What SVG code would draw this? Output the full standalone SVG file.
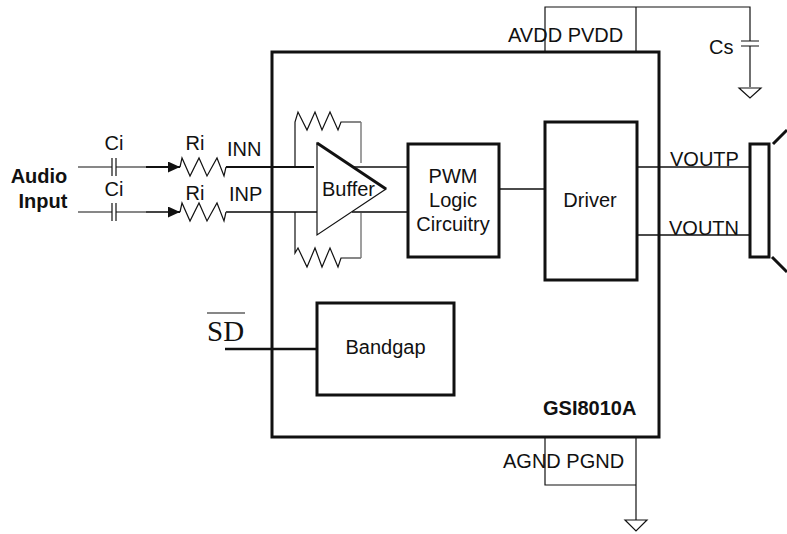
<svg xmlns="http://www.w3.org/2000/svg" width="787" height="534" viewBox="0 0 787 534">
<style>
text{font-family:"Liberation Sans",Arial,sans-serif;font-size:20px;fill:#111}
.b{font-weight:bold}
.c{fill:none;stroke:#111;stroke-width:2}
.g{fill:none;stroke:#444;stroke-width:2}
.t{fill:none;stroke:#111;stroke-width:1.2}
.y{fill:none;stroke:#777;stroke-width:1.4}
.m{fill:none;stroke:#111;stroke-width:1.6}
.h{fill:none;stroke:#111;stroke-width:3}
</style>
<defs><marker id="a" markerWidth="12" markerHeight="12" refX="12" refY="5.5" orient="auto" markerUnits="userSpaceOnUse"><path d="M0 0L12 5.5L0 11z" fill="#111"/></marker></defs>
<g id="connectors">
<path class="t" d="M78 167H112M116 167H146M78 212H112M116 212H146"/>
<path class="t" d="M112 158V176M116 158V176M112 203V221M116 203V221"/>
<path class="c" d="M146 167H180" marker-end="url(#a)"/>
<path class="g" d="M146 212H170"/>
<path class="c" d="M168 212H180" marker-end="url(#a)"/>
<path class="t" d="M180 167L182 158L190 176L199 158L207 176L217 158L224 176L226 167M180 212L182 203L190 221L199 203L207 221L217 203L224 221L226 212"/>
<path class="c" d="M226 167H314"/>
<path class="g" d="M226 212H317M352 212H408"/>
<path class="t" d="M295 167V122L298 112L307 130L315 112L322 130L330 112L338 130L341 122H361"/>
<path class="t" d="M295 212V253L298 248L307 267L315 248L322 267L330 248L338 267L341 258H361"/>
<path class="y" d="M361 122V163M361 213V258"/>
<path class="m" d="M353 167H408"/>
<path class="m" d="M499 189H545M637 167H750M637 235H750"/>
<path class="t" d="M545 52V7H636V52M636 7H750V41M741 41H759M741 46H759M750 46V87"/>
<path class="t" d="M739 88H761L750 98Z"/>
<path class="t" d="M545 438V485H636M636 438V520M625 520H647L636 531Z"/>
<path d="M225 349H317" fill="none" stroke="#111" stroke-width="2.4"/>
<path class="h" d="M773 144L787 130M772 257L787 272"/>
</g>
<g id="chip"><rect class="h" x="272" y="52" width="387" height="385"/><text class="b" x="543" y="415">GSI8010A</text></g>
<g id="input"><text class="b" x="39" y="183" text-anchor="middle">Audio</text><text class="b" x="43" y="208" text-anchor="middle">Input</text><text x="114" y="150" text-anchor="middle">Ci</text><text x="114" y="196" text-anchor="middle">Ci</text><text x="195" y="150" text-anchor="middle">Ri</text><text x="195" y="200" text-anchor="middle">Ri</text><text x="227" y="156">INN</text><text x="229" y="201">INP</text></g>
<g id="buffer"><path d="M317 143L386 189L317 235Z" fill="none" stroke="#111" stroke-width="1.2"/><path d="M317 143L386 189" class="h"/><text x="322" y="196">Buffer</text></g>
<g id="pwm"><rect class="h" x="408" y="144" width="91" height="113"/><text x="453" y="183" text-anchor="middle">PWM</text><text x="453" y="207" text-anchor="middle">Logic</text><text x="453" y="231" text-anchor="middle">Circuitry</text></g>
<g id="driver"><rect class="h" x="545" y="122" width="92" height="158"/><text x="590" y="207" text-anchor="middle">Driver</text></g>
<g id="bandgap"><rect class="h" x="317" y="303" width="137" height="92"/><text x="385.5" y="354" text-anchor="middle">Bandgap</text></g>
<g id="sd"><text x="207" y="341" style="font-family:'Liberation Serif',serif;font-size:29px">SD</text><path d="M207 313H245" stroke="#111" stroke-width="1.2"/></g>
<g id="speaker"><rect class="h" x="750" y="144" width="19" height="113"/></g>
<g id="labels"><text x="508" y="42">AVDD PVDD</text><text x="709" y="54">Cs</text><text x="670" y="166">VOUTP</text><text x="669" y="235">VOUTN</text><text x="503" y="468">AGND PGND</text></g>
</svg>
